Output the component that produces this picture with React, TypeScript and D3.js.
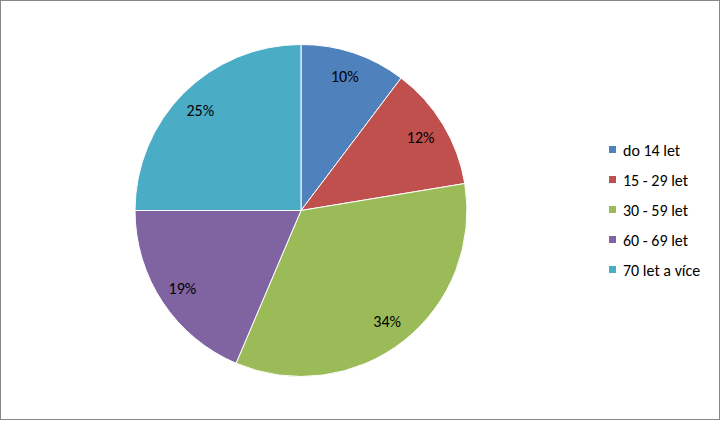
import React from "react";
import * as d3 from "d3";

const categories = ["do 14 let", "15 - 29 let", "30 - 59 let", "60 - 69 let", "70 let a více"];
const values = [10.3, 12.1, 34.0, 18.6, 25.0];
const labels = ["10%", "12%", "34%", "19%", "25%"];
const colors = ["#4F81BD", "#C0504D", "#9BBB59", "#8064A2", "#4BACC6"];

const W = 721;
const H = 421;

export default function App() {
  const cx = 301;
  const cy = 210.5;
  const r = 166;
  const pie = d3.pie<number>().sort(null).value((d) => d)(values);
  const arc = d3.arc<d3.PieArcDatum<number>>().innerRadius(0).outerRadius(r);
  const labelArc = d3.arc<d3.PieArcDatum<number>>().innerRadius(141).outerRadius(141);
  const font = "Calibri, Carlito, Lato, 'Liberation Sans', Arial, sans-serif";
  const legendY = d3.scalePoint<string>().domain(categories).range([150, 270]);

  return (
    <div style={{ position: "absolute", left: 0, top: 0 }}>
      <svg width={W} height={H} style={{ display: "block" }}>
        <rect x={0} y={0} width={W} height={H} fill="#fff" />
        <rect x={0.5} y={0.5} width={719} height={419} fill="none" stroke="#868686" strokeWidth={1} />
        <g transform={`translate(${cx},${cy})`}>
          {pie.map((p, i) => (
            <path key={i} d={arc(p) || ""} fill={colors[i]} stroke="#fff" strokeWidth={1} />
          ))}
          {pie.map((p, i) => {
            const [x, y] = labelArc.centroid(p);
            return (
              <text
                key={"l" + i}
                x={x - 1}
                y={y}
                textAnchor="middle"
                dominantBaseline="central"
                fontFamily={font}
                fontSize={16}
                fill="#000"
              >
                {labels[i]}
              </text>
            );
          })}
        </g>
        <g>
          {categories.map((c, i) => (
            <g key={c} transform={`translate(609,${legendY(c)})`}>
              <rect x={0} y={-4} width={7} height={7} fill={colors[i]} />
              <text x={14} y={0} dominantBaseline="central" fontFamily={font} fontSize={16} fill="#000">
                {c}
              </text>
            </g>
          ))}
        </g>
      </svg>
    </div>
  );
}
